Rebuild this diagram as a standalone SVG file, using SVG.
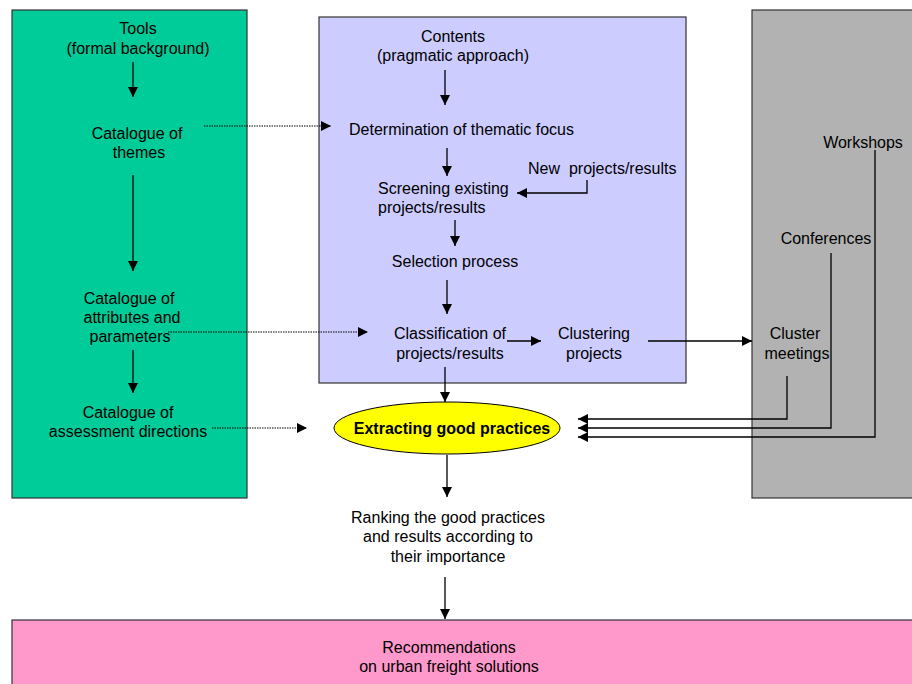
<svg xmlns="http://www.w3.org/2000/svg" width="912" height="684" viewBox="0 0 912 684">
<defs>
<marker id="ah" viewBox="0 0 10 10" refX="10" refY="5" markerWidth="10" markerHeight="11" markerUnits="userSpaceOnUse" orient="auto">
<path d="M0,0 L10,5 L0,10 z" fill="#000"/>
</marker>
<style>
text{font-family:"Liberation Sans",Arial,sans-serif;font-size:16px;fill:#000;text-anchor:middle}
.s{text-anchor:start}
.b{font-weight:bold}
.ln{stroke:#000;stroke-width:1.3;fill:none}
.dot{stroke:#000;stroke-width:1;stroke-dasharray:1.5 1;fill:none}
.panel{stroke:#333;stroke-width:1.2}
</style>
</defs>
<g id="tools-panel">
<rect class="panel" x="12" y="10" width="235" height="488" fill="#00CC99"/>
<text x="138" y="34">Tools</text>
<text x="138" y="54">(formal background)</text>
<text x="137" y="139">Catalogue of</text>
<text x="139" y="158">themes</text>
<text x="129" y="304">Catalogue of</text>
<text x="132" y="323">attributes and</text>
<text x="130" y="342">parameters</text>
<text x="128" y="418">Catalogue of</text>
<text x="128" y="437">assessment directions</text>
</g>
<g id="contents-panel">
<rect class="panel" x="319" y="17" width="367" height="366" fill="#CCCCFF"/>
<text x="453" y="42">Contents</text>
<text x="453" y="61">(pragmatic approach)</text>
<text class="s" x="349" y="135">Determination of thematic focus</text>
<text class="s" x="528" y="174" xml:space="preserve">New  projects/results</text>
<text class="s" x="378" y="194">Screening existing</text>
<text class="s" x="378" y="213">projects/results</text>
<text x="455" y="267">Selection process</text>
<text x="450" y="339">Classification of</text>
<text x="450" y="359">projects/results</text>
<text x="594" y="339">Clustering</text>
<text x="594" y="359">projects</text>
</g>
<g id="events-panel">
<rect class="panel" x="752" y="10" width="170" height="488" fill="#B2B2B2"/>
<text x="863" y="148">Workshops</text>
<text x="826" y="244">Conferences</text>
<text x="795" y="339">Cluster</text>
<text x="797" y="359">meetings</text>
</g>
<g id="extracting">
<ellipse cx="447" cy="428" rx="113" ry="26" fill="#FFFF00" stroke="#000" stroke-width="1"/>
<text class="b" x="452" y="434">Extracting good practices</text>
</g>
<g id="ranking">
<text x="448" y="523">Ranking the good practices</text>
<text x="448" y="542">and results according to</text>
<text x="448" y="562">their importance</text>
</g>
<g id="recommendations">
<rect class="panel" x="12" y="620" width="910" height="70" fill="#FF99CC"/>
<text x="449" y="653">Recommendations</text>
<text x="449" y="672">on urban freight solutions</text>
</g>
<g id="connectors">
<line class="ln" x1="133" y1="62" x2="133" y2="97" marker-end="url(#ah)"/>
<line class="ln" x1="133" y1="175" x2="133" y2="271" marker-end="url(#ah)"/>
<line class="ln" x1="133" y1="350" x2="133" y2="393" marker-end="url(#ah)"/>
<line class="dot" x1="204" y1="126" x2="331" y2="126" marker-end="url(#ah)"/>
<line class="dot" x1="168" y1="332" x2="368" y2="332" marker-end="url(#ah)"/>
<line class="dot" x1="212" y1="428" x2="307" y2="428" marker-end="url(#ah)"/>
<line class="ln" x1="445" y1="70" x2="445" y2="105" marker-end="url(#ah)"/>
<line class="ln" x1="447" y1="148" x2="447" y2="176" marker-end="url(#ah)"/>
<polyline class="ln" points="587,180 587,193 517,193" marker-end="url(#ah)"/>
<line class="ln" x1="455" y1="220" x2="455" y2="246" marker-end="url(#ah)"/>
<line class="ln" x1="447" y1="280" x2="447" y2="314" marker-end="url(#ah)"/>
<line class="ln" x1="507" y1="341" x2="541" y2="341" marker-end="url(#ah)"/>
<line class="ln" x1="648" y1="341" x2="752" y2="341" marker-end="url(#ah)"/>
<line class="ln" x1="445" y1="367" x2="445" y2="402" marker-end="url(#ah)"/>
<polyline class="ln" points="787,376 787,419 578,419" marker-end="url(#ah)"/>
<polyline class="ln" points="831,253 831,428 578,428" marker-end="url(#ah)"/>
<polyline class="ln" points="875,150 875,437 578,437" marker-end="url(#ah)"/>
<line class="ln" x1="447" y1="455" x2="447" y2="497" marker-end="url(#ah)"/>
<line class="ln" x1="445" y1="577" x2="445" y2="619" marker-end="url(#ah)"/>
</g>
</svg>
